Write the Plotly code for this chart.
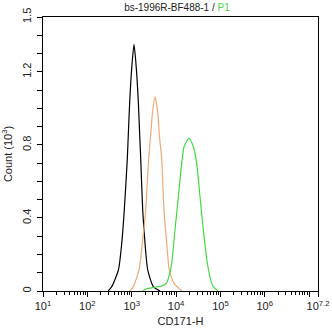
import plotly.graph_objects as go

# Histogram curves (x in log10 units, counts in 10^3)
black_logx = [2.47, 2.55, 2.70, 2.775, 2.833, 2.901, 2.923, 2.955, 3.00, 3.052, 3.104, 3.149, 3.18, 3.203, 3.248, 3.30, 3.361, 3.487, 3.64]
black_count = [0.0, 0.024, 0.115, 0.261, 0.443, 0.726, 0.854, 1.036, 1.219, 1.35, 1.219, 1.036, 0.854, 0.726, 0.443, 0.261, 0.115, 0.024, 0.0]

orange_logx = [2.96, 3.036, 3.165, 3.239, 3.316, 3.383, 3.428, 3.464, 3.525, 3.593, 3.622, 3.676, 3.728, 3.789, 3.848, 3.954, 4.13]
orange_count = [0.0, 0.024, 0.115, 0.261, 0.443, 0.726, 0.854, 0.964, 1.064, 0.964, 0.854, 0.726, 0.443, 0.261, 0.115, 0.042, 0.0]

green_logx = [3.25, 3.34, 3.50, 3.68, 3.79, 3.85, 3.902, 3.976, 4.051, 4.127, 4.18, 4.292, 4.39, 4.465, 4.54, 4.615, 4.705, 4.804, 4.84, 4.95]
green_count = [0.0, 0.012, 0.02, 0.028, 0.045, 0.09, 0.152, 0.334, 0.516, 0.699, 0.79, 0.836, 0.79, 0.699, 0.516, 0.334, 0.152, 0.042, 0.024, 0.0]

x_tick_exps = [1, 2, 3, 4, 5, 6, 7, 7.2]
x_tick_labels = ["10<sup>1</sup>", "10<sup>2</sup>", "10<sup>3</sup>", "10<sup>4</sup>",
                 "10<sup>5</sup>", "10<sup>6</sup>", "", "10<sup>7.2</sup>"]
y_tick_vals = [0, 0.4, 0.8, 1.2, 1.5]
y_tick_labels = ["0", "0.4", "0.8", "1.2", "1.5"]

fig = go.Figure()
for lx, cnt, col in [(black_logx, black_count, "#000000"),
                     (orange_logx, orange_count, "#eeaa78"),
                     (green_logx, green_count, "#44d844")]:
    fig.add_trace(go.Scatter(x=[10 ** v for v in lx], y=cnt, mode="lines",
                             line=dict(color=col, width=1.2, shape="spline", smoothing=0.6),
                             showlegend=False, hoverinfo="skip"))

minor_x = [m * 10 ** k for k in range(1, 7) for m in range(2, 10)]

font = "Liberation Sans, Arial, sans-serif"
fig.update_layout(
    width=332, height=335,
    margin=dict(l=43, r=14, t=17, b=44),
    paper_bgcolor="white", plot_bgcolor="white",
    font=dict(family=font, size=11, color="#222222"),
    title=dict(text="bs-1996R-BF488-1 / <span style='color:#44d844'>P1</span>",
               x=0.533, xanchor="center", y=0.978, yanchor="middle",
               font=dict(size=10, color="#222222")),
    xaxis=dict(type="log", range=[1, 7.2], showgrid=False, zeroline=False,
               showline=True, linecolor="black", linewidth=1, mirror=True,
               ticks="outside", ticklen=5, tickcolor="black", tickwidth=1,
               tickmode="array", tickvals=[10 ** e for e in x_tick_exps], ticktext=x_tick_labels,
               tickangle=0, automargin=False,
               tickfont=dict(size=11, color="#222222"),
               minor=dict(ticks="outside", ticklen=3, tickcolor="black", tickwidth=1,
                          tickmode="array", tickvals=minor_x),
               title=dict(text="CD171-H", font=dict(size=11, color="#222222"), standoff=6)),
    yaxis=dict(range=[0, 1.5], showgrid=False, zeroline=False,
               showline=True, linecolor="black", linewidth=1, mirror=True,
               ticks="outside", ticklen=5, tickcolor="black", tickwidth=1,
               tickmode="array", tickvals=y_tick_vals, ticktext=y_tick_labels,
               tickangle=-90, automargin=False, ticklabelstandoff=2,
               tickfont=dict(size=11, color="#222222"),
               minor=dict(ticks="outside", ticklen=5, tickcolor="black", tickwidth=1, dtick=0.1),
               title=dict(text="Count (10<sup>3</sup>)", font=dict(size=11, color="#222222"), standoff=6)),
)

fig.write_html("out.html")
